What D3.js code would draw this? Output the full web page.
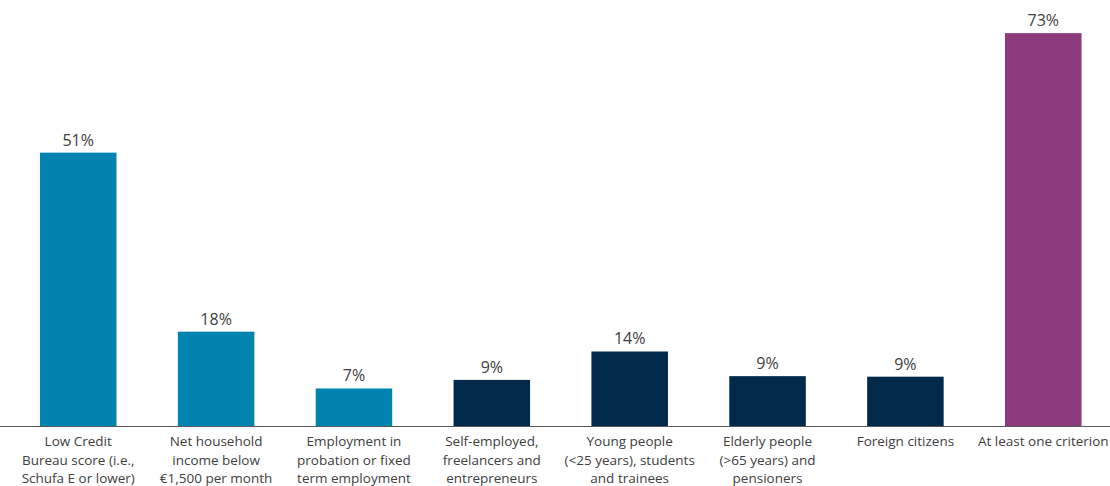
<!DOCTYPE html>
<html>
<head>
<meta charset="utf-8">
<script src="https://d3js.org/d3.v7.min.js"></script>
<style>
  body { margin: 0; background: #fff; }
  svg { display: block; font-family: "Open Sans", "Noto Sans", sans-serif; }
</style>
</head>
<body>
<svg id="drawing_region"></svg>
<script>
// category labels, one entry per line of text
const categories = [
  ["Low Credit", "Bureau score (i.e.,", "Schufa E or lower)"],
  ["Net household", "income below", "€1,500 per month"],
  ["Employment in", "probation or fixed", "term employment"],
  ["Self-employed,", "freelancers and", "entrepreneurs"],
  ["Young people", "(<25 years), students", "and trainees"],
  ["Elderly people", "(>65 years) and", "pensioners"],
  ["Foreign citizens"],
  ["At least one criterion"]
];
const values = [51.0, 17.6, 7.0, 8.6, 13.9, 9.3, 9.2, 73.3];
const groups = ["criterion", "criterion", "criterion", "group", "group", "group", "group", "total"];

const config = {
  width: 1110,
  height: 486,
  baseline: 426,
  pxPerUnit: 5.36
};

const color = d3.scaleOrdinal()
  .domain(["criterion", "group", "total"])
  .range(["#0083ae", "#012a4a", "#8d3a7c"]);

const svg = d3.select('#drawing_region')
  .attr('width', config.width)
  .attr('height', config.height);

const data = values.map((v, i) => ({ label: categories[i], value: v, group: groups[i] }));

const xscale = d3.scaleBand()
  .domain(d3.range(data.length))
  .range([9.3, 1112.2])
  .paddingInner(0.445)
  .paddingOuter(0.2225);

const yscale = d3.scaleLinear()
  .domain([0, 80])
  .range([config.baseline, config.baseline - 80 * config.pxPerUnit]);

svg.selectAll('rect.bar')
  .data(data)
  .enter()
  .append('rect')
  .attr('class', 'bar')
  .attr('x', (d, i) => xscale(i))
  .attr('y', d => yscale(d.value))
  .attr('width', xscale.bandwidth())
  .attr('height', d => yscale(0) - yscale(d.value))
  .attr('fill', d => color(d.group));

// value labels
svg.selectAll('text.value')
  .data(data)
  .enter()
  .append('text')
  .attr('class', 'value')
  .attr('x', (d, i) => xscale(i) + xscale.bandwidth() / 2)
  .attr('y', d => yscale(d.value) - 7)
  .attr('text-anchor', 'middle')
  .attr('fill', '#404040')
  .style('font-size', '16px')
  .text(d => d3.format('.0f')(d.value) + '%');

// baseline
svg.append('line')
  .attr('x1', 0)
  .attr('x2', config.width)
  .attr('y1', yscale(0) + 0.5)
  .attr('y2', yscale(0) + 0.5)
  .attr('stroke', '#595959')
  .attr('stroke-width', 1);

// category labels
const cat = svg.selectAll('text.cat')
  .data(data)
  .enter()
  .append('text')
  .attr('class', 'cat')
  .attr('text-anchor', 'middle')
  .attr('fill', '#404040')
  .style('font-size', '13.5px');

cat.selectAll('tspan')
  .data((d, i) => d.label.map(l => ({ line: l, i: i })))
  .enter()
  .append('tspan')
  .attr('x', d => xscale(d.i) + xscale.bandwidth() / 2)
  .attr('y', (d, j) => 446 + j * 18.5)
  .text(d => d.line);
</script>
</body>
</html>
